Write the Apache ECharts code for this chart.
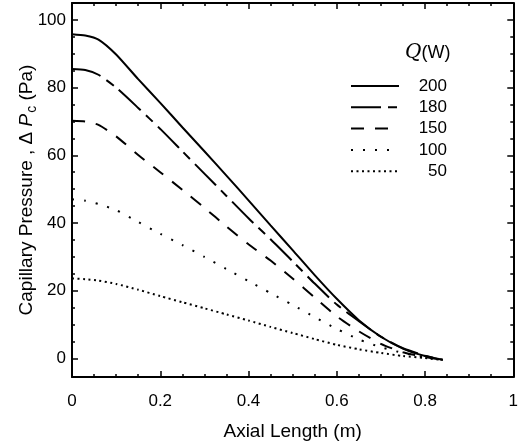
<!DOCTYPE html>
<html>
<head>
<meta charset="utf-8">
<script src="https://cdn.jsdelivr.net/npm/echarts@6/dist/echarts.min.js"></script>
<style>
  html, body { margin: 0; padding: 0; background: #fff; }
  #chart { width: 521px; height: 446px; }
</style>
</head>
<body>
<div id="chart"></div>
<script>
// axial positions (m) shared by every curve
const axialPos = [0, 0.03, 0.06, 0.1, 0.15, 0.2, 0.25, 0.3, 0.35, 0.4, 0.45, 0.5, 0.55, 0.6, 0.65, 0.7, 0.75, 0.8, 0.84];

// capillary pressure (Pa) for each heat load
const q200 = [95.8, 95.4, 94.2, 89.8, 82.5, 75.5, 68.3, 61.2, 54, 46.7, 39.3, 32, 24.6, 17.6, 11.3, 6.4, 2.9, 0.7, -0.4];
const q180 = [85.5, 85.2, 83.8, 80, 74, 67.8, 61.2, 54.6, 48, 41.4, 35.2, 28.7, 22.1, 15.9, 11, 6.4, 3, 0.8, -0.4];
const q150 = [70.2, 70, 69, 65.6, 60.1, 55, 49.8, 44.5, 39, 33.7, 28.9, 23.6, 18, 12.4, 8, 4.3, 1.8, 0.4, -0.4];
const q100 = [47, 46.6, 45.6, 43.8, 40.3, 36.8, 33.5, 30, 26.4, 22.8, 19.3, 15.8, 12.2, 8.7, 5.6, 3.3, 1.6, 0.4, -0.4];
const q50 = [23.6, 23.4, 23, 22, 20.3, 18.4, 16.6, 14.8, 13, 11.2, 9.3, 7.5, 5.7, 4, 2.7, 1.6, 0.7, 0.1, -0.5];

const seriesNames = ["200", "180", "150", "100", "50"];
const seriesValues = [q200, q180, q150, q100, q50];
const dashes = ["solid", [30, 7, 9, 7], [13, 11], [2, 10], [2, 3.5]];

const yMajor = [0, 20, 40, 60, 80, 100];
const yMinor = [5, 10, 15, 25, 30, 35, 45, 50, 55, 65, 70, 75, 85, 90, 95, 105];

const font = "Liberation Sans";
const black = "#000";

const myChart = echarts.init(document.getElementById("chart"));

function xAxisOf(pos, withLabels) {
  return {
    type: "value",
    position: pos,
    min: 0,
    max: 1,
    interval: 0.2,
    axisLine: { show: true, onZero: false, lineStyle: { color: black, width: 2 } },
    axisTick: { show: true, inside: true, length: 6, lineStyle: { color: black, width: 1.5 } },
    minorTick: { show: true, splitNumber: 4, length: 3, lineStyle: { color: black, width: 1.5 } },
    splitLine: { show: false },
    axisLabel: { show: withLabels, margin: 16, fontSize: 17, color: black, fontFamily: font },
    name: withLabels ? "Axial Length (m)" : "",
    nameLocation: "middle",
    nameGap: 45,
    nameTextStyle: { fontSize: 19, color: black, fontFamily: font },
  };
}

function yAxisOf(pos, ticks, len, withLabels, withLine) {
  return {
    type: "value",
    position: pos,
    min: -5.5,
    max: 105,
    axisLine: { show: withLine, onZero: false, lineStyle: { color: black, width: 2 } },
    axisTick: { show: true, inside: true, length: len, customValues: ticks, lineStyle: { color: black, width: 1.5 } },
    splitLine: { show: false },
    axisLabel: { show: withLabels, customValues: ticks, margin: 6, fontSize: 17, color: black, fontFamily: font },
    name: withLabels ? "{a|Capillary Pressure , \u0394 }{p|P}{s|c}{a| (Pa)}" : "",
    nameLocation: "middle",
    nameGap: 33,
    nameMoveOverlap: false,
    nameTextStyle: {
      color: black,
      fontFamily: font,
      rich: {
        a: { fontSize: 19, color: black, fontFamily: font },
        p: { fontSize: 19, color: black, fontFamily: font, fontStyle: "italic" },
        s: { fontSize: 14, color: black, fontFamily: font, padding: [10, 0, 0, 1] },
      },
    },
  };
}

let option = {
  animation: false,
  backgroundColor: "#fff",
  grid: { left: 72, right: 4, top: 3, bottom: 69 },
  title: {
    text: "{q|Q}(W)",
    left: 400,
    top: 38,
    textStyle: {
      fontSize: 18,
      color: black,
      fontFamily: font,
      fontWeight: "normal",
      rich: { q: { fontSize: 20, fontStyle: "italic", fontFamily: "DejaVu Serif", color: black } },
    },
  },
  legend: {
    orient: "vertical",
    left: 345,
    top: 72,
    itemWidth: 48,
    itemHeight: 14,
    itemGap: 3.3,
    data: seriesNames,
    itemStyle: { color: "transparent", borderWidth: 0, opacity: 0 },
    formatter: (name) => "{r|" + name + "}",
    textStyle: {
      fontSize: 17,
      lineHeight: 18,
      color: black,
      fontFamily: font,
      rich: { r: { fontSize: 17, lineHeight: 18, color: black, fontFamily: font, width: 43, align: "right" } },
    },
  },
  xAxis: [xAxisOf("bottom", true), xAxisOf("top", false)],
  yAxis: [
    yAxisOf("left", yMajor, 6, true, true),
    yAxisOf("left", yMinor, 3, false, false),
    yAxisOf("right", yMajor, 6, false, true),
    yAxisOf("right", yMinor, 3, false, false),
  ],
  series: seriesNames.map((name, i) => ({
    name: name,
    type: "line",
    xAxisIndex: 0,
    yAxisIndex: 0,
    symbol: "none",
    smooth: 0.2,
    data: axialPos.map((x, j) => [x, seriesValues[i][j]]),
    lineStyle: { color: black, width: 2, type: dashes[i] },
    itemStyle: { color: black },
  })),
};

myChart.setOption(option);
</script>
</body>
</html>
